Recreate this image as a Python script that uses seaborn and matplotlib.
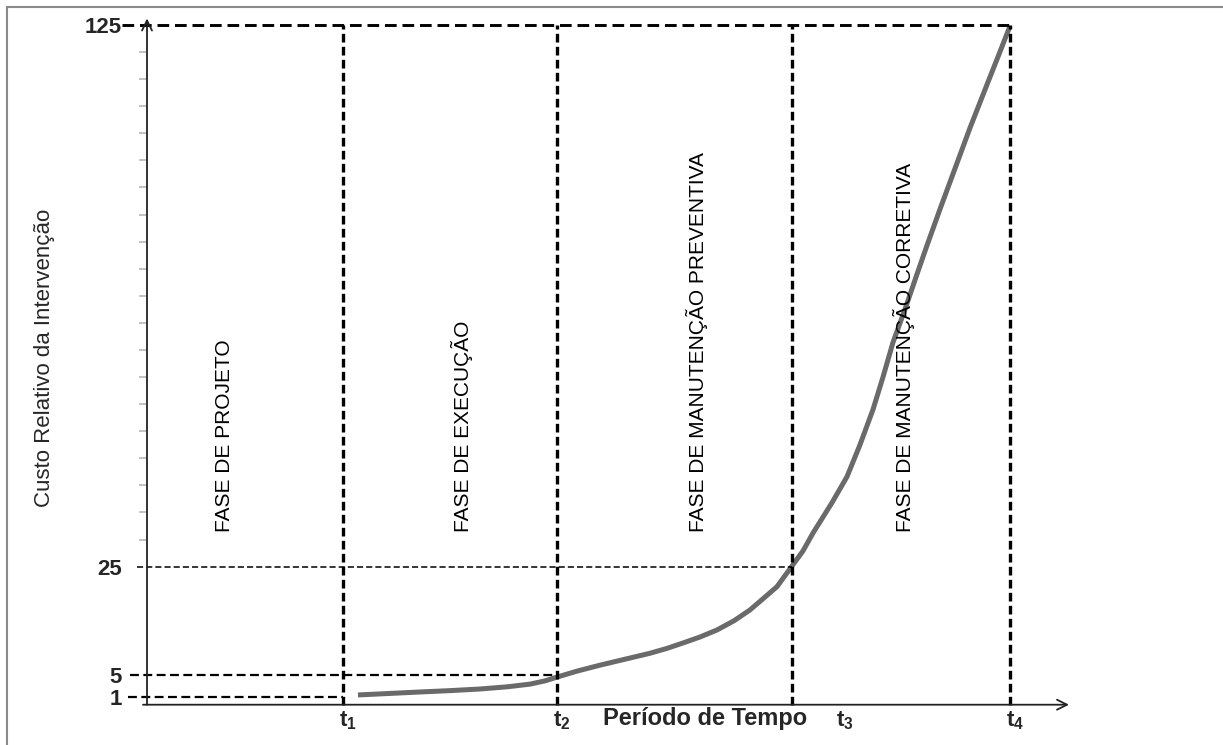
import matplotlib
matplotlib.use("Agg")
import matplotlib.pyplot as plt
import seaborn as sns
import pandas as pd
from matplotlib.patches import Rectangle

# ---- data ----
curve_x = [2.11, 2.45, 2.73, 3.03, 3.33, 3.60, 3.83, 3.98, 4.10, 4.30, 4.53, 4.78, 5.03,
           5.20, 5.36, 5.53, 5.70, 5.87, 6.03, 6.15, 6.30, 6.45, 6.56, 6.66, 6.85, 7.00,
           7.13, 7.26, 7.36, 7.46, 7.58, 7.70, 7.80, 7.93, 8.05, 8.23, 8.40, 8.52, 8.63]
curve_y = [1.3, 1.6, 1.85, 2.1, 2.4, 2.8, 3.3, 3.9, 4.6, 5.7, 6.8, 7.9, 9.0,
           9.9, 10.9, 12.0, 13.3, 15.0, 17.0, 18.9, 21.3, 25.1, 27.9, 31.2, 36.8, 41.6,
           47.5, 54.0, 60.0, 66.4, 72.5, 79.0, 84.3, 91.0, 97.0, 106.0, 114.0, 119.6, 124.8]
t_positions = [1.96, 4.10, 6.45, 8.63]
t_label_x = [2.01, 4.15, 6.98, 8.68]
t_labels = [r"$\mathbf{t_1}$", r"$\mathbf{t_2}$", r"$\mathbf{t_3}$", r"$\mathbf{t_4}$"]
ref_levels = [1, 5, 25, 125]
ref_labels = ["1", "5", "25", "125"]
phase_names = ["FASE DE PROJETO", "FASE DE EXECUÇÃO",
               "FASE DE MANUTENÇÃO PREVENTIVA", "FASE DE MANUTENÇÃO CORRETIVA"]
phase_x = [0.77, 3.15, 5.50, 7.57]
minor_ticks = list(range(30, 125, 5))
x_title = "Período de Tempo"
y_title = "Custo Relativo da Intervenção"

sns.set_style("white")
plt.rcParams["font.family"] = ["Liberation Sans", "DejaVu Sans"]
plt.rcParams["mathtext.fontset"] = "custom"
plt.rcParams["mathtext.rm"] = "Liberation Sans"
plt.rcParams["mathtext.bf"] = "Liberation Sans:bold"
plt.rcParams["mathtext.it"] = "Liberation Sans:italic"

W, H = 1223, 745
fig = plt.figure(figsize=(W / 100, H / 100), dpi=100)
ax = fig.add_axes([147 / W, (H - 702) / H, (1072 - 147) / W, (702 - 25) / H])

# curve
df = pd.DataFrame({"t": curve_x, "c": curve_y})
sns.lineplot(data=df, x="t", y="c", ax=ax, color="#6a6a6a", linewidth=3.6,
             sort=False, clip_on=False, solid_capstyle="butt", solid_joinstyle="round")

ax.set_xlim(0, 9.25)
ax.set_ylim(0, 125)
ax.set_xlabel("")
ax.set_ylabel("")
for s in ax.spines.values():
    s.set_visible(False)

# outer frame
fig.patches.append(Rectangle((7 / W, -0.1), 1.2, 1 - 7 / H + 0.1, transform=fig.transFigure,
                             fill=False, edgecolor="#8a8a8a", linewidth=1.5))

# horizontal reference lines
h_start = {1: -0.19, 5: -0.17, 25: -0.10, 125: -0.25}
h_end = {1: t_positions[0], 5: t_positions[1], 25: t_positions[2], 125: t_positions[3]}
h_lw = {1: 1.6, 5: 1.6, 25: 1.1, 125: 2.1}
for lv in ref_levels:
    ax.plot([h_start[lv], h_end[lv]], [lv, lv], color="black", lw=h_lw[lv],
            linestyle=(0, (4, 2)), clip_on=False)

# vertical phase lines
for tp in t_positions:
    ax.plot([tp, tp], [-0.5, 125], color="black", lw=2.4,
            linestyle=(0, (2.6, 1.3)), clip_on=False)

# axes arrows
ax.annotate("", xy=(0, 126.2), xytext=(0, -0.5),
            arrowprops=dict(arrowstyle="->", color="#222222", lw=1.3,
                            shrinkA=0, shrinkB=0, mutation_scale=18), annotation_clip=False)
ax.annotate("", xy=(9.22, -0.5), xytext=(-0.04, -0.5),
            arrowprops=dict(arrowstyle="->", color="#222222", lw=1.3,
                            shrinkA=0, shrinkB=0, mutation_scale=18), annotation_clip=False)

# ticks
ax.set_yticks(ref_levels)
ax.set_yticklabels(ref_labels, fontsize=16, fontweight="bold")
ax.set_yticks(minor_ticks, minor=True)
ax.tick_params(axis="y", which="major", left=True, length=0, pad=18)
ax.tick_params(axis="y", which="minor", left=True, length=6, width=1.2,
               color="#b8b8b8", direction="out")
ax.set_xticks([])
for lx, lab in zip(t_label_x, t_labels):
    ax.text(lx, -1.4, lab, ha="center", va="top", fontsize=16)

# phase labels
for name, px in zip(phase_names, phase_x):
    ax.text(px, 31.4, name, rotation=90, ha="center", va="bottom", fontsize=15,
            color="black")

# axis titles
ax.text(5.58, -3.0, x_title, ha="center", va="center", fontsize=17, fontweight="bold")
fig.text(45 / W, 1 - 358 / H, y_title, rotation=90, ha="center", va="center", fontsize=16)

fig.savefig("out.png", dpi=100)
